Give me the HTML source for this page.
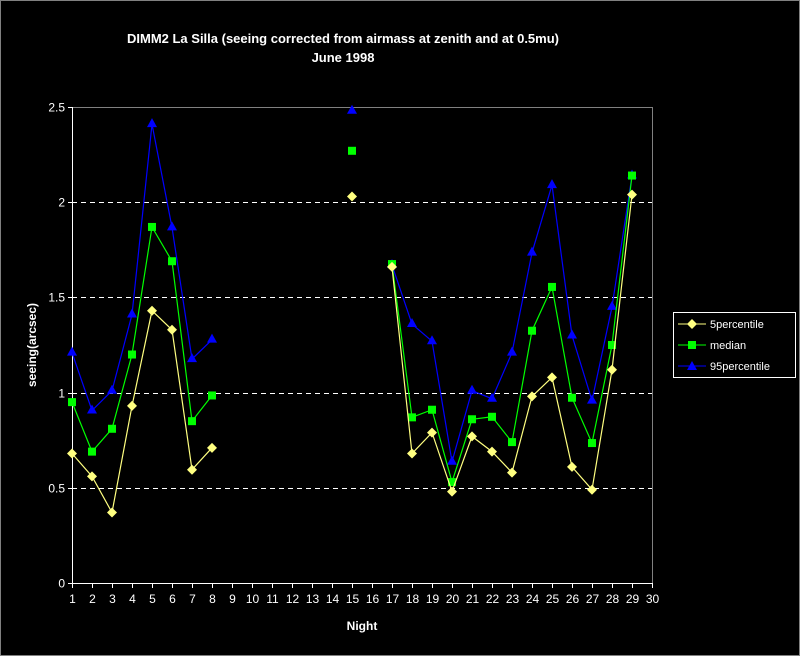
<!DOCTYPE html>
<html><head><meta charset="utf-8"><style>
html,body{margin:0;padding:0;background:#000;}
svg{display:block;font-family:"Liberation Sans",Arial,sans-serif;}
</style></head><body>
<svg id="chart" width="800" height="656" viewBox="0 0 800 656">
<rect x="0.5" y="0.5" width="799" height="655" fill="#000" stroke="#808080"/>
<text x="343" y="43" fill="#fff" font-size="13" font-weight="bold" text-anchor="middle">DIMM2 La Silla (seeing corrected from airmass at zenith and at 0.5mu)</text>
<text x="343" y="62" fill="#fff" font-size="13" font-weight="bold" text-anchor="middle">June 1998</text>
<text transform="translate(36,345) rotate(-90)" fill="#fff" font-size="12" font-weight="bold" text-anchor="middle">seeing(arcsec)</text>
<text x="362" y="630" fill="#fff" font-size="12" font-weight="bold" text-anchor="middle">Night</text>
<g id="grid"></g><g id="axes"></g><g id="series"></g>
<g>
<rect x="673.5" y="312.5" width="122" height="65" fill="#000" stroke="#fff"/>
<line x1="678" y1="324" x2="706" y2="324" stroke="#ffff80"/><path d="M692 319 L697 324 L692 329 L687 324Z" fill="#ffff80"/>
<text x="710" y="328" fill="#fff" font-size="11">5percentile</text>
<line x1="678" y1="345" x2="706" y2="345" stroke="#00ff00"/><rect x="688" y="341" width="8" height="8" fill="#00ff00"/>
<text x="710" y="349" fill="#fff" font-size="11">median</text>
<line x1="678" y1="366" x2="706" y2="366" stroke="#0000ff"/><path d="M692 361 L697 370 L687 370Z" fill="#0000ff"/>
<text x="710" y="370" fill="#fff" font-size="11">95percentile</text>
</g>
</svg>
<script>
const nights = [1,2,3,4,5,6,7,8,9,10,11,12,13,14,15,16,17,18,19,20,21,22,23,24,25,26,27,28,29,30];
const p5 = [0.68,0.56,0.37,0.93,1.43,1.33,0.595,0.71,null,null,null,null,null,null,2.03,null,1.66,0.68,0.79,0.48,0.77,0.69,0.58,0.98,1.08,0.61,0.49,1.12,2.04,null];
const median = [0.95,0.69,0.81,1.2,1.87,1.69,0.85,0.985,null,null,null,null,null,null,2.27,null,1.675,0.87,0.91,0.53,0.86,0.873,0.74,1.325,1.555,0.973,0.735,1.25,2.14,null];
const p95 = [1.21,0.906,1.01,1.41,2.41,1.868,1.176,1.278,null,null,null,null,null,null,2.48,null,1.67,1.36,1.27,0.637,1.01,0.968,1.21,1.735,2.09,1.30,0.958,1.45,2.14,null];
const yTicks = [0,0.5,1,1.5,2,2.5];
const yTickLabels = ["0","0.5","1","1.5","2","2.5"];
const NS="http://www.w3.org/2000/svg";
const X0=72,X1=652,Y0=583,Y1=107,YMAX=2.5;
function xs(i){return X0+(i)*(X1-X0)/(nights.length-1);}
function ys(v){return Y0-(v/YMAX)*(Y0-Y1);}
function mk(tag,attrs,parent){const e=document.createElementNS(NS,tag);for(const k in attrs)e.setAttribute(k,attrs[k]);parent.appendChild(e);return e;}
const grid=document.getElementById('grid'),axes=document.getElementById('axes'),ser=document.getElementById('series');
mk('line',{x1:X0,y1:Y1+0.5,x2:X1+0.5,y2:Y1+0.5,stroke:'#808080'},grid);
mk('line',{x1:X1+0.5,y1:Y1,x2:X1+0.5,y2:Y0,stroke:'#808080'},grid);
yTicks.forEach((t,i)=>{
  const y=Math.round(ys(t))+0.5;
  if(t>0&&t<YMAX){const g=mk('line',{x1:X0,y1:y,x2:X1,y2:y,stroke:'#fff','stroke-dasharray':'5,4'},grid);
  
  }
  mk('line',{x1:X0-4,y1:y,x2:X0,y2:y,stroke:'#fff'},axes);
  const tx=mk('text',{x:X0-7,y:y+4,fill:'#fff','font-size':12,'text-anchor':'end'},axes);
  tx.textContent=yTickLabels[i];
  
  
});
mk('line',{x1:X0+0.5,y1:Y1,x2:X0+0.5,y2:Y0,stroke:'#fff'},axes);
mk('line',{x1:X0,y1:Y0+0.5,x2:X1+1,y2:Y0+0.5,stroke:'#fff'},axes);
nights.forEach((n,i)=>{
  const x=Math.round(xs(i))+0.5;
  mk('line',{x1:x,y1:Y0,x2:x,y2:Y0+5,stroke:'#fff'},axes);
  const tx=mk('text',{x:x,y:Y0+20,fill:'#fff','font-size':12,'text-anchor':'middle'},axes);
  tx.textContent=n;
  
  
});
function drawSeries(vals,color,shape,name){
  const g=mk('g',{},ser);
  
  
  let seg=[];
  const flush=()=>{if(seg.length>1)mk('polyline',{points:seg.join(' '),fill:'none',stroke:color,'stroke-width':1.2},g);seg=[];};
  vals.forEach((v,i)=>{if(v==null){flush();return;}seg.push(xs(i)+','+ys(v));});
  flush();
  vals.forEach((v,i)=>{
    if(v==null)return;const x=xs(i),y=ys(v);let m;
    if(shape==='d')m=mk('path',{d:`M${x} ${y-5}L${x+5} ${y}L${x} ${y+5}L${x-5} ${y}Z`,fill:color},g);
    else if(shape==='s')m=mk('rect',{x:x-4,y:y-4,width:8,height:8,fill:color},g);
    else m=mk('path',{d:`M${x} ${y-6}L${x+5} ${y+3}L${x-5} ${y+3}Z`,fill:color},g);
    
    
  });
}
drawSeries(p95,'#0000ff','t','series-95percentile');
drawSeries(median,'#00ff00','s','series-median');
drawSeries(p5,'#ffff80','d','series-5percentile');
</script>
</body></html>
